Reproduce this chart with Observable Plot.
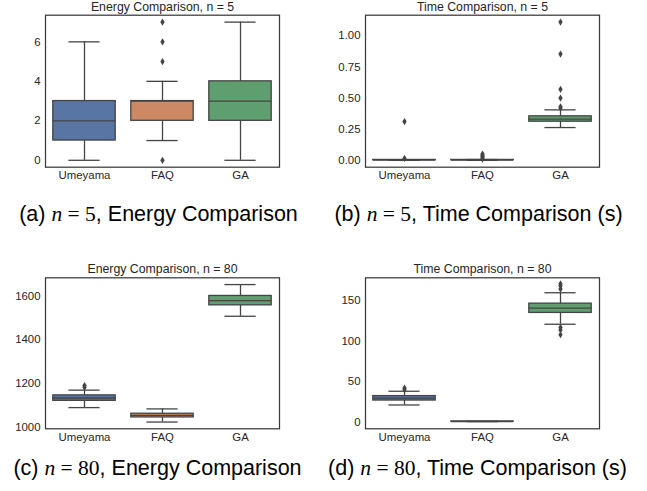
<!DOCTYPE html>
<html><head><meta charset="utf-8">
<script src="https://cdn.jsdelivr.net/npm/d3@7"></script>
<script src="https://cdn.jsdelivr.net/npm/@observablehq/plot@0.6"></script>
<style>
body{margin:0;background:#fff;}
#wrap{position:relative;width:647px;height:491px;overflow:hidden;background:#fff;font-family:"Liberation Sans",Arial,sans-serif;}
.panel{position:absolute;}
.cap{position:absolute;width:317px;text-align:center;font-size:21.5px;line-height:21.5px;color:#000;white-space:nowrap;}
.m{font-family:"Liberation Serif","Times New Roman",serif;}
.mi{font-family:"Liberation Serif","Times New Roman",serif;font-style:italic;}
</style></head><body><div id="wrap"></div>
<script>
const categories = ["Umeyama", "FAQ", "GA"];
const palette = ["#5975a4", "#cc8963", "#5f9e6e"];

// (a) Energy, n = 5
const energy5Low = [0, 1, 0];
const energy5Q1 = [1, 2, 2];
const energy5Median = [2, 3, 3];
const energy5Q3 = [3, 3, 4];
const energy5High = [6, 4, 7];
const energy5OutCat = ["FAQ", "FAQ", "FAQ", "FAQ"];
const energy5OutVal = [0, 5, 6, 7];
const energy5Ticks = [0, 2, 4, 6];

// (b) Time, n = 5
const time5Low = [0, 0, 0.263];
const time5Q1 = [0.001, 0.001, 0.31];
const time5Median = [0.002, 0.002, 0.33];
const time5Q3 = [0.003, 0.003, 0.353];
const time5High = [0.005, 0.006, 0.405];
const time5OutCat = ["Umeyama", "Umeyama", "FAQ", "FAQ", "FAQ", "FAQ", "FAQ", "GA", "GA", "GA", "GA", "GA", "GA"];
const time5OutVal = [0.311, 0.015, 0.01, 0.02, 0.03, 0.04, 0.05, 0.42, 0.43, 0.5, 0.57, 0.853, 1.11];
const time5Ticks = [0, 0.25, 0.5, 0.75, 1.0];

// (c) Energy, n = 80
const energy80Low = [1089, 1023, 1507];
const energy80Q1 = [1120, 1044, 1557];
const energy80Median = [1133, 1053, 1579];
const energy80Q3 = [1145, 1061, 1600];
const energy80High = [1169, 1083, 1652];
const energy80OutCat = ["Umeyama", "Umeyama"];
const energy80OutVal = [1182, 1190];
const energy80Ticks = [1000, 1200, 1400, 1600];

// (d) Time, n = 80
const time80Low = [21, 0.4, 121];
const time80Q1 = [26.5, 0.5, 135];
const time80Median = [29.5, 0.55, 141];
const time80Q3 = [32, 0.6, 146.5];
const time80High = [38, 0.7, 160];
const time80OutCat = ["Umeyama", "Umeyama", "GA", "GA", "GA", "GA", "GA", "GA"];
const time80OutVal = [40, 42, 164.5, 168.5, 171, 117, 114, 108];
const time80Ticks = [0, 50, 100, 150];

const thinDiamond = {
  draw(ctx, size) {
    const s = Math.sqrt(size / Math.PI);
    ctx.moveTo(0, -1.2 * s);
    ctx.lineTo(0.72 * s, 0);
    ctx.lineTo(0, 1.2 * s);
    ctx.lineTo(-0.72 * s, 0);
    ctx.closePath();
  }
};

const LINE = "#444444";
const TEXT = "#262626";

function panel(cfg) {
  const {title, low, q1, med, q3, high, outCat, outVal, domain, ticks, fmt, left, top, height, marginTop, marginBottom} = cfg;
  const width = 320, ml = 45, mr = 41;
  const band = (width - ml - mr) / categories.length;
  const stats = categories.map((c, i) => ({cat: c, low: low[i], q1: q1[i], med: med[i], q3: q3[i], high: high[i]}));
  const outs = outCat.map((c, i) => ({cat: c, value: outVal[i]}));
  const chart = Plot.plot({
    width, height, marginLeft: ml, marginRight: mr, marginTop, marginBottom,
    style: {background: "transparent", fontFamily: "'Liberation Sans', Arial, sans-serif", fontSize: "11.4px", color: TEXT},
    x: {type: "band", domain: categories, padding: 0, label: null, tickSize: 0, tickPadding: 4},
    y: {domain, ticks, tickFormat: fmt, label: null, tickSize: 0, tickPadding: 5},
    color: {domain: categories, range: palette},
    marks: [
      Plot.ruleX(stats, {x: "cat", y1: "low", y2: "high", stroke: LINE, strokeWidth: 1.3}),
      Plot.tickY(stats, {x: "cat", y: "low", stroke: LINE, strokeWidth: 1.3, insetLeft: band * 0.3, insetRight: band * 0.3}),
      Plot.tickY(stats, {x: "cat", y: "high", stroke: LINE, strokeWidth: 1.3, insetLeft: band * 0.3, insetRight: band * 0.3}),
      Plot.barY(stats, {x: "cat", y1: "q1", y2: "q3", fill: "cat", stroke: LINE, strokeWidth: 1.3, insetLeft: band * 0.1, insetRight: band * 0.1}),
      Plot.tickY(stats, {x: "cat", y: "med", stroke: LINE, strokeWidth: 1.3, insetLeft: band * 0.1, insetRight: band * 0.1}),
      Plot.dot(outs, {x: "cat", y: "value", symbol: thinDiamond, r: 3, fill: LINE, stroke: null}),
      Plot.frame({stroke: "#3a3a3a", strokeWidth: 1.25}),
      Plot.text([title], {frameAnchor: "top", lineAnchor: "bottom", dy: -4.5, fontSize: 12.3, fill: TEXT})
    ]
  });
  chart.classList.add("panel");
  chart.style.left = left + "px";
  chart.style.top = top + "px";
  document.getElementById("wrap").appendChild(chart);
}

panel({title: "Energy Comparison, n = 5", low: energy5Low, q1: energy5Q1, med: energy5Median, q3: energy5Q3, high: energy5High,
  outCat: energy5OutCat, outVal: energy5OutVal, domain: [-0.35, 7.35], ticks: energy5Ticks, fmt: d3.format("d"),
  left: 0, top: 0, height: 190, marginTop: 14.7, marginBottom: 23.3});
panel({title: "Time Comparison, n = 5", low: time5Low, q1: time5Q1, med: time5Median, q3: time5Q3, high: time5High,
  outCat: time5OutCat, outVal: time5OutVal, domain: [-0.0555, 1.1655], ticks: time5Ticks, fmt: d3.format(".2f"),
  left: 320, top: 0, height: 190, marginTop: 14.7, marginBottom: 23.3});
panel({title: "Energy Comparison, n = 80", low: energy80Low, q1: energy80Q1, med: energy80Median, q3: energy80Q3, high: energy80High,
  outCat: energy80OutCat, outVal: energy80OutVal, domain: [992, 1683], ticks: energy80Ticks, fmt: d3.format("d"),
  left: 0, top: 255, height: 195, marginTop: 22.3, marginBottom: 21.7});
panel({title: "Time Comparison, n = 80", low: time80Low, q1: time80Q1, med: time80Median, q3: time80Q3, high: time80High,
  outCat: time80OutCat, outVal: time80OutVal, domain: [-8.5, 178.5], ticks: time80Ticks, fmt: d3.format("d"),
  left: 320, top: 255, height: 195, marginTop: 22.3, marginBottom: 21.7});

const captions = [
  {lab: "(a) ", n: "5", text: ", Energy Comparison", left: 0, top: 203.5},
  {lab: "(b) ", n: "5", text: ", Time Comparison (s)", left: 320, top: 203.5},
  {lab: "(c) ", n: "80", text: ", Energy Comparison", left: -1, top: 457.8},
  {lab: "(d) ", n: "80", text: ", Time Comparison (s)", left: 319, top: 457.8}
];
for (const c of captions) {
  const d = document.createElement("div");
  d.className = "cap";
  d.style.left = c.left + "px";
  d.style.top = c.top + "px";
  d.innerHTML = `${c.lab}<span class="mi">n</span><span class="m"> = ${c.n}</span>${c.text}`;
  document.getElementById("wrap").appendChild(d);
}
</script>
</body></html>
